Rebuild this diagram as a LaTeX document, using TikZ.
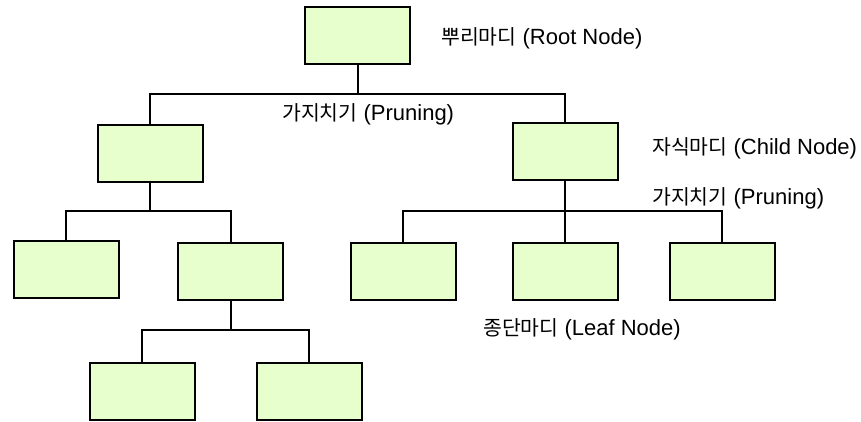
\documentclass[tikz,border=0pt]{standalone}
\usepackage{fontspec}
\setmainfont{Liberation Sans}
\newfontfamily\kr{Noto Sans CJK KR}[Scale=0.93]
\definecolor{boxfill}{HTML}{E6FFCC}
\tikzset{
  treebox/.style={draw=black, fill=boxfill, line width=2pt, minimum width=105pt, minimum height=57pt, inner sep=0pt, anchor=center},
  lbl/.style={anchor=west, inner sep=0pt, font=\fontsize{22}{26}\selectfont},
  conn/.style={line width=2pt, line join=miter}
}
\begin{document}
\begin{tikzpicture}[x=1pt,y=-1pt]
\useasboundingbox (0,0) rectangle (861,421);
% boxes
\node[treebox] (root) at (357.5,35) {};
\node[treebox] (lc) at (150,153) {};
\node[treebox] (rc) at (565,151.5) {};
\node[treebox] (ll) at (66,269) {};
\node[treebox] (lr) at (230.5,271) {};
\node[treebox] (bl) at (142,391) {};
\node[treebox] (br) at (309,391.5) {};
\node[treebox] (r1) at (403,271) {};
\node[treebox] (r2) at (565,271) {};
\node[treebox] (r3) at (722,271) {};
% bus points
\coordinate (bus1) at (357.5,94);
\coordinate (bus2) at (150,211);
\coordinate (bus3) at (230.5,330);
\coordinate (bus4) at (565,211);
% connectors
\draw[conn] (root.south) -- (bus1);
\draw[conn] (lc.north) |- (bus1) -| (rc.north);
\draw[conn] (lc.south) -- (bus2);
\draw[conn] (ll.north) |- (bus2) -| (lr.north);
\draw[conn] (lr.south) -- (bus3);
\draw[conn] (bl.north) |- (bus3) -| (br.north);
\draw[conn] (rc.south) -- (bus4);
\draw[conn] (r1.north) |- (bus4) -| (r3.north);
\draw[conn] (bus4) -- (r2.north);
% labels
\node[lbl] (t1) at (441,38) {{\kr 뿌리마디} (Root Node)};
\node[lbl] (t2) at (282,114) {{\kr 가지치기} (Pruning)};
\node[lbl] (t3) at (652,148) {{\kr 자식마디} (Child Node)};
\node[lbl] (t4) at (652,198) {{\kr 가지치기} (Pruning)};
\node[lbl] (t5) at (483,329) {{\kr 종단마디} (Leaf Node)};
\end{tikzpicture}
\end{document}
